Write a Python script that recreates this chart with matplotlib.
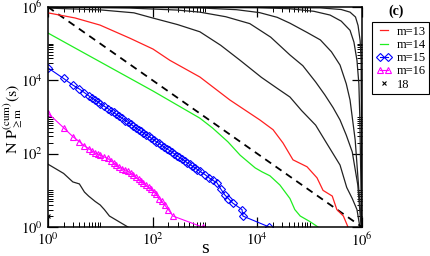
import numpy as np
import matplotlib
matplotlib.use("Agg")
import matplotlib.pyplot as plt
from matplotlib.ticker import FixedLocator, NullFormatter
from matplotlib.legend_handler import HandlerLine2D

plt.rcParams['font.family'] = ['Liberation Serif', 'DejaVu Serif']
plt.rcParams['mathtext.fontset'] = 'stix'

# black curves (small m)
s_k1 = [1, 10, 44, 100, 300, 800, 2000, 4700, 1.2e4, 2.5e4, 4.2e4, 7e4, 1.3e5,
        2.1e5, 3.8e5, 5.1e5, 6.5e5, 8e5, 9.1e5]
y_k1 = [9.3e5, 8.3e5, 6.9e5, 5.0e5, 3.3e5, 2.1e5, 9e4, 3.5e4, 1.2e4, 5.8e3, 3.5e3,
        1.5e3, 600, 195, 49, 12, 6, 3, 1]
s_k2 = [1, 37, 300, 800, 2500, 7200, 1.8e4, 4.2e4, 7.4e4, 1.3e5, 1.95e5, 2.8e5,
        3.8e5, 5e5, 6.5e5, 8.3e5, 9.6e5]
y_k2 = [9.8e5, 9.3e5, 8.2e5, 7.2e5, 5.4e5, 3.5e5, 1.5e5, 4.9e4, 2.5e4, 9e3, 4e3,
        1.8e3, 830, 320, 112, 14, 1]
s_k3 = [1, 800, 4000, 1.1e4, 2.4e4, 4.2e4, 9e4, 1.6e5, 2.6e5, 3.8e5, 5e5, 5.9e5,
        7.4e5, 8.7e5, 9.9e5]
y_k3 = [1e6, 9.4e5, 8.4e5, 7e5, 5.2e5, 3.6e5, 2e5, 1.26e5, 6e4, 2.6e4, 8e3, 2.9e3,
        235, 10, 1]
s_k4 = [1, 1e4, 4.2e4, 1.2e5, 2.45e5, 4e5, 5.9e5, 7e5, 8e5, 8.7e5, 9.1e5, 9.8e5]
y_k4 = [1e6, 9.6e5, 8.9e5, 7.6e5, 6e5, 4.1e5, 2.3e5, 1.1e5, 3.5e4, 8e3, 830, 1]
s_k5 = [1, 1.6e5, 4e5, 5.9e5, 7.5e5, 8.4e5, 9.2e5, 9.6e5, 9.95e5]
y_k5 = [1e6, 9.4e5, 8.5e5, 7.2e5, 5.3e5, 3.1e5, 1.2e5, 3.5e4, 1]

# m=13
s_13 = [1, 3.3, 9.9, 37, 102, 214, 800, 3000, 1.12e4, 2e4, 3.1e4, 4.8e4, 8.9e4,
        1.38e5, 1.8e5, 2.7e5, 3.3e5, 4.4e5, 5.4e5]
y_13 = [6.9e5, 5e5, 3.2e5, 1.4e5, 7.1e4, 3.5e4, 1.23e4, 2.9e3, 830, 450, 195, 68, 44,
        22, 10, 7, 3, 2, 1]
# m=14
s_14 = [1, 3.3, 9.9, 102, 800, 1400, 2750, 4700, 9100, 1.23e4, 1.74e4, 2.7e4,
        4.2e4, 5.2e4, 6.6e4, 1.02e5, 1.45e5]
y_14 = [1.95e5, 7.6e4, 3.2e4, 5.1e3, 930, 500, 210, 91, 41, 32, 25, 14,
        6, 3, 2, 1.4, 1]
# m=15
s_15 = [1, 2, 3, 4, 5, 6, 7, 8, 9, 10, 12, 14, 16, 18, 20, 23, 26, 30, 34, 38, 43,
        48, 54, 60, 67, 75, 84, 94, 105, 118, 132, 148, 165, 185, 207, 232, 260,
        290, 325, 365, 410, 460, 515, 575, 645, 720, 800, 1000, 1200, 1400, 1700,
        2000, 2400, 2800, 3400, 5100, 5300, 17000]
y_15 = [2.2e4, 1.12e4, 7.4e3, 5.8e3, 4.6e3, 3.8e3, 3.3e3, 2.9e3, 2.6e3, 2.3e3,
        1.96e3, 1.7e3, 1.48e3, 1.33e3, 1.2e3, 1.04e3, 930, 800, 720, 640, 565,
        510, 450, 410, 372, 328, 298, 265, 240, 212, 193, 170, 155, 137, 125, 110,
        100, 88, 80, 71, 64, 56, 51, 46, 41, 37, 33, 27, 22, 19, 16, 11, 7.5, 6,
        4.5, 3, 2, 1]
# m=16
s_16 = [1, 2, 3, 4, 5, 6, 7, 8, 9, 10, 12, 14, 16, 18, 20, 23, 26, 30, 34, 38, 43,
        48, 54, 60, 67, 75, 84, 94, 105, 118, 132, 150, 170, 200, 245, 900]
y_16 = [1285, 510, 292, 213, 162, 138, 118, 104, 98, 92, 81, 74, 63, 57, 49, 43,
        39, 36, 33, 30, 26, 23, 20, 18, 16, 14, 12, 11, 9, 8, 6, 5, 4, 3, 2, 1]
# m=17
s_17 = [1, 2, 3, 4, 5, 6, 8, 10, 12, 15, 34]
y_17 = [52, 29, 17, 15, 9, 7, 5, 4, 3, 2, 1]
# m=18
s_18 = [1]
y_18 = [2]

# reference slope -1
s_ref = [1, 1e6]
y_ref = [1e6, 1]

fig = plt.figure(figsize=(4.31, 2.56), dpi=100)
ax = fig.add_axes([0.111, 0.113, 0.729, 0.860])

for s, y in [(s_k1, y_k1), (s_k2, y_k2), (s_k3, y_k3), (s_k4, y_k4), (s_k5, y_k5)]:
    ax.plot(s, y, color='#222222', lw=0.9)
ax.plot(s_17, y_17, color='#222222', lw=0.9)
ax.plot(s_ref, y_ref, color='black', lw=1.3, ls=(0, (4, 3)))

l13, = ax.plot(s_13, y_13, color='#ff2020', lw=0.9, label='m=13')
l14, = ax.plot(s_14, y_14, color='#20ee20', lw=0.9, label='m=14')
l15, = ax.plot(s_15, y_15, color='#0000ff', lw=0.8, marker='D', ms=4.2,
               mfc='none', mew=0.8, label='m=15')
l16, = ax.plot(s_16, y_16, color='#ff00ff', lw=0.8, marker='^', ms=5,
               mfc='none', mew=0.8, label='m=16')
l18, = ax.plot(s_18, y_18, ls='none', color='black', marker='x', ms=3.5,
               mew=0.8, label='18')

ax.set_xscale('log')
ax.set_yscale('log')
ax.set_xlim(1, 1e6)
ax.set_ylim(1, 1e6)

majors = [1, 1e2, 1e4, 1e6]
minors = [k * 10.0**e for e in (0, 2, 4) for k in range(2, 11)]
for a in (ax.xaxis, ax.yaxis):
    a.set_major_locator(FixedLocator(majors))
    a.set_minor_locator(FixedLocator(minors))
    a.set_minor_formatter(NullFormatter())
ax.set_xticklabels([r'$10^{0}$', r'$10^{2}$', r'$10^{4}$', r'$10^{6}$'])
ax.set_yticklabels([r'$10^{0}$', r'$10^{2}$', r'$10^{4}$', r'$10^{6}$'])
ax.tick_params(which='both', direction='in', top=True, right=True, labelsize=10.5)
ax.tick_params(which='major', length=7, width=0.9)
ax.tick_params(which='minor', length=3.5, width=0.7)
ax.tick_params(axis='x', pad=3)
for sp in ax.spines.values():
    sp.set_linewidth(1.1)

ax.set_xlabel('s', fontsize=14, labelpad=-6)
ax.set_ylabel(r'$\mathrm{N\ P}^{\mathrm{(cum)}}_{\geq\mathrm{m}}\mathrm{(s)}$',
              fontsize=11.5)
ax.yaxis.set_label_coords(-0.072, 0.49)

leg = ax.legend(handles=[l13, l14, l15, l16, l18], loc='upper left',
                bbox_to_anchor=(1.032, 0.932), borderaxespad=0, fontsize=9,
                frameon=True, fancybox=False, edgecolor='black', framealpha=1,
                handlelength=1.3, handletextpad=0.35, labelspacing=0.1,
                borderpad=0.3, numpoints=2,
                handler_map={l18: HandlerLine2D(numpoints=1)})
leg.get_frame().set_linewidth(0.8)

fig.text(0.918, 0.955, '(c)', fontsize=10, fontweight='bold', ha='center', va='center')

fig.savefig('out.png', dpi=100)
